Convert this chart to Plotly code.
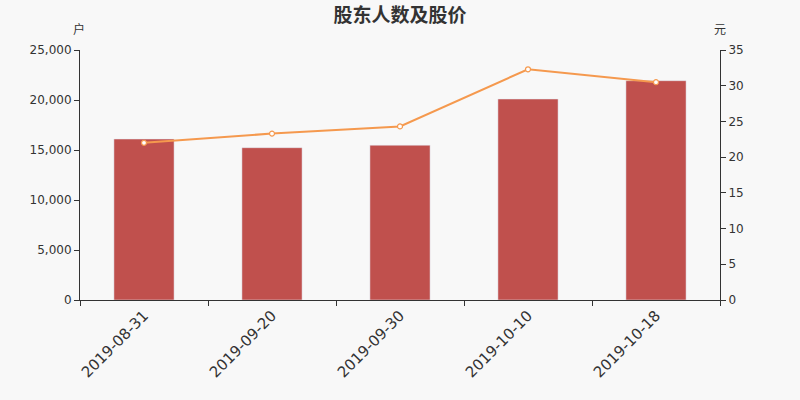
import plotly.graph_objects as go

dates = ["2019-08-31", "2019-09-20", "2019-09-30", "2019-10-10", "2019-10-18"]
holders = [16100, 15230, 15480, 20100, 21930]
price = [22.0, 23.3, 24.3, 32.3, 30.5]

fig = go.Figure()

fig.add_trace(go.Bar(
    x=dates, y=holders, name="股东人数",
    marker=dict(color="#c0504d"), width=0.47,
))

fig.add_trace(go.Scatter(
    x=dates, y=price, name="股价", yaxis="y2", mode="lines+markers",
    line=dict(color="#f5994e", width=2),
    marker=dict(size=5, color="white", line=dict(color="#f5994e", width=1.2)),
))

axis_font = dict(family="DejaVu Sans", size=12, color="#333")
unit_font = dict(family="Noto Sans CJK SC", size=12, color="#333")

fig.update_layout(
    width=800, height=400,
    paper_bgcolor="#f8f8f8", plot_bgcolor="#f8f8f8",
    margin=dict(l=80, r=80, t=50, b=100),
    showlegend=False,
    title=dict(text="<b>股东人数及股价</b>", x=0.5, xanchor="center", y=0.9625, yanchor="middle",
               font=dict(family="Noto Sans CJK SC", size=19, color="#333")),
    xaxis=dict(type="category", showline=True, linecolor="#333", linewidth=1,
               ticks="outside", tickson="boundaries", ticklen=5, tickcolor="#333",
               tickangle=-45, tickfont=dict(family="DejaVu Sans", size=15, color="#333"),
               showgrid=False),
    yaxis=dict(range=[0, 25000], dtick=5000, tickformat=",", showline=True,
               linecolor="#333", ticks="outside", ticklen=5, tickcolor="#333",
               showgrid=False, zeroline=False, tickfont=axis_font),
    yaxis2=dict(range=[0, 35], dtick=5, overlaying="y", side="right", showline=True,
                linecolor="#333", ticks="outside", ticklen=5, tickcolor="#333",
                showgrid=False, zeroline=False, tickfont=axis_font),
    annotations=[
        dict(text="户", x=0, xref="paper", xanchor="center", xshift=-1,
             y=1, yref="paper", yanchor="middle", yshift=22,
             showarrow=False, font=unit_font),
        dict(text="元", x=1, xref="paper", xanchor="center", xshift=-0.5,
             y=1, yref="paper", yanchor="middle", yshift=22,
             showarrow=False, font=unit_font),
    ],
)

# page has a default body margin; drop it so the chart sits at the corner
fig.write_html("out.html", config={"displayModeBar": False},
               post_script="document.body.style.margin='0';")
